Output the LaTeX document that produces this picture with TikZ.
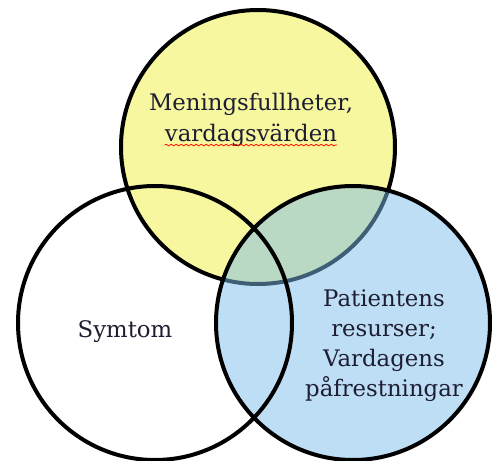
\documentclass[tikz,border=0pt]{standalone}
\usepackage{fontspec}
\setmainfont{DejaVu Serif}
\usetikzlibrary{positioning,decorations.pathmorphing}

\definecolor{meanyellow}{RGB}{246,247,158}
\definecolor{resblue}{RGB}{125,189,235}
\definecolor{labelink}{RGB}{30,30,50}

\begin{document}
\begin{tikzpicture}[x=0.5pt, y=-0.5pt,
    set/.style={circle, draw, line width=2pt, inner sep=0pt, minimum size=137pt},
    lbl/.style={text=labelink, align=center, font=\fontsize{11.4}{15}\selectfont}]
                \useasboundingbox (0,0) rectangle (499,461);

                % Circles
                \node[set, fill=meanyellow] (mean) at (258,147) {};
                \node[set, fill=resblue, fill opacity=0.5] (res) at (353,323) {};
                \node[set] (sym) at (155,323) {};

                % Labels
                \node[lbl, inner sep=0pt] (mean1) at (251,104) {Meningsfullheter,};
                \node[lbl, inner sep=0pt, below=4pt of mean1] (mean2) {vardagsvärden};
                \node[lbl] (symlbl) at (125,332) {Symtom};
                \node[lbl] (reslbl) at (384,346) {Patientens\\resurser;\\Vardagens\\påfrestningar};

                % Spelling mark
                \draw[red!85!orange, line width=0.4pt,
                      decorate, decoration={snake, amplitude=0.4pt, segment length=2.5pt}]
                    ([yshift=-1.8pt]mean2.base west) -- ([yshift=-1.8pt]mean2.base east);
\end{tikzpicture}
\end{document}
